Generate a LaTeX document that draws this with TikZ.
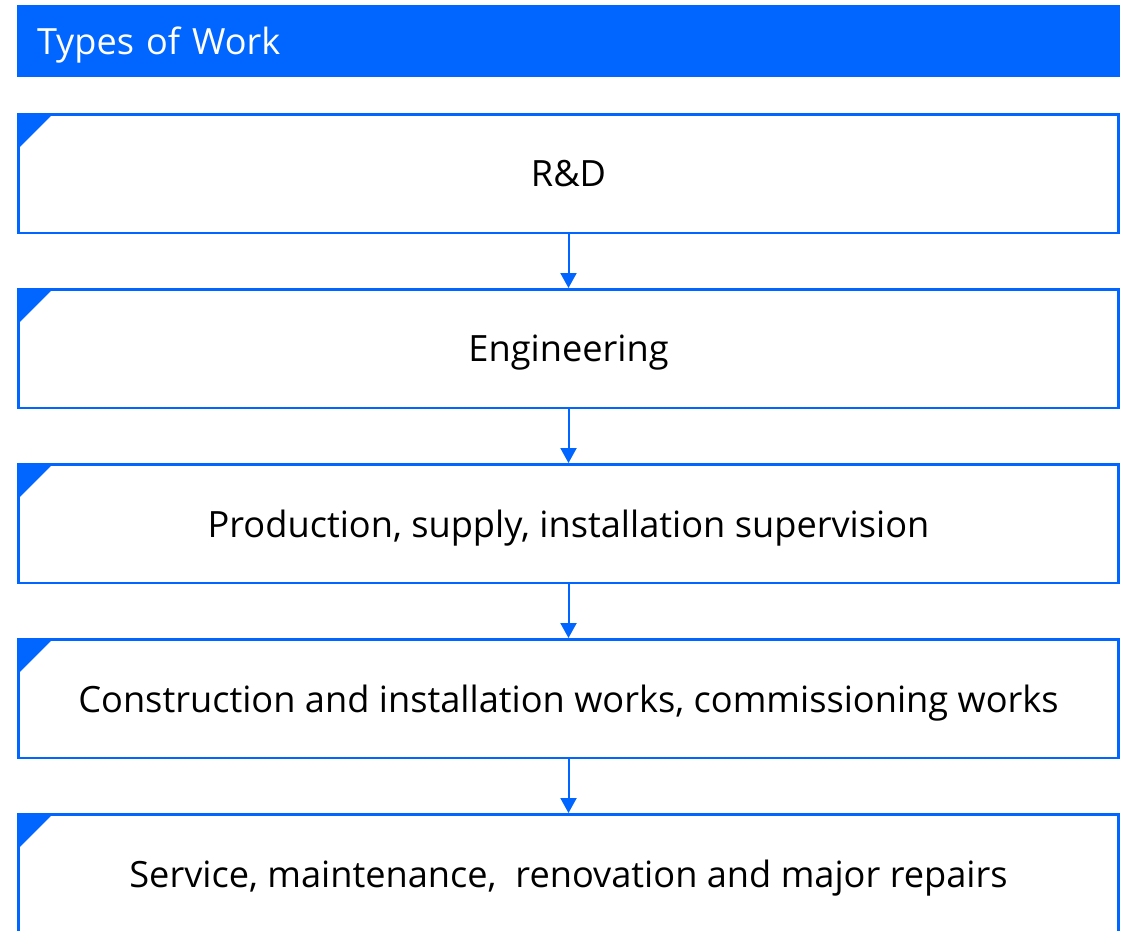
\documentclass[tikz,border=0pt]{standalone}
\usepackage{fontspec}
\setmainfont{Open Sans}
\usepackage{xcolor}
\usepackage{tikz}
\usetikzlibrary{positioning,arrows.meta}
\definecolor{workblue}{HTML}{0066FF}
\tikzset{
	header/.style={fill=workblue, text=white, minimum width=1103pt, minimum height=72pt, inner sep=0pt, font=\fontsize{36.1}{44}\selectfont, text width=1063pt, text depth=0pt, align=left},
	stage/.style={draw=workblue, line width=2.5pt, minimum width=1100pt, minimum height=118.5pt, inner sep=0pt, font=\fontsize{36.2}{42}\selectfont, text depth=0pt, align=center,
		path picture={\fill[workblue] (path picture bounding box.north west) -- ++(34pt,0) -- ++(-34pt,-34pt) -- cycle;}},
	flow/.style={draw=workblue, line width=2pt, -{Triangle[length=15pt,width=16pt]}}
}

\begin{document}
\begin{tikzpicture}[x=1pt,y=-1pt]
	\useasboundingbox (0,0) rectangle (1128,930);
	\node[header] (title) at (568.5,41) {Types of Work};
	\node[stage] (rnd) at (568.5,173.5) {R\&D};
	\node[stage, below=54pt of rnd] (eng) {Engineering};
	\node[stage, below=54pt of eng] (prod) {Production, supply, installation supervision};
	\node[stage, below=54pt of prod] (constr) {Construction and installation works, commissioning works};
	\node[stage, below=54pt of constr] (serv) {Service, maintenance,\ \ renovation and major repairs};
	\draw[flow] (rnd) -- (eng);
	\draw[flow] (eng) -- (prod);
	\draw[flow] (prod) -- (constr);
	\draw[flow] (constr) -- (serv);
\end{tikzpicture}
\end{document}
